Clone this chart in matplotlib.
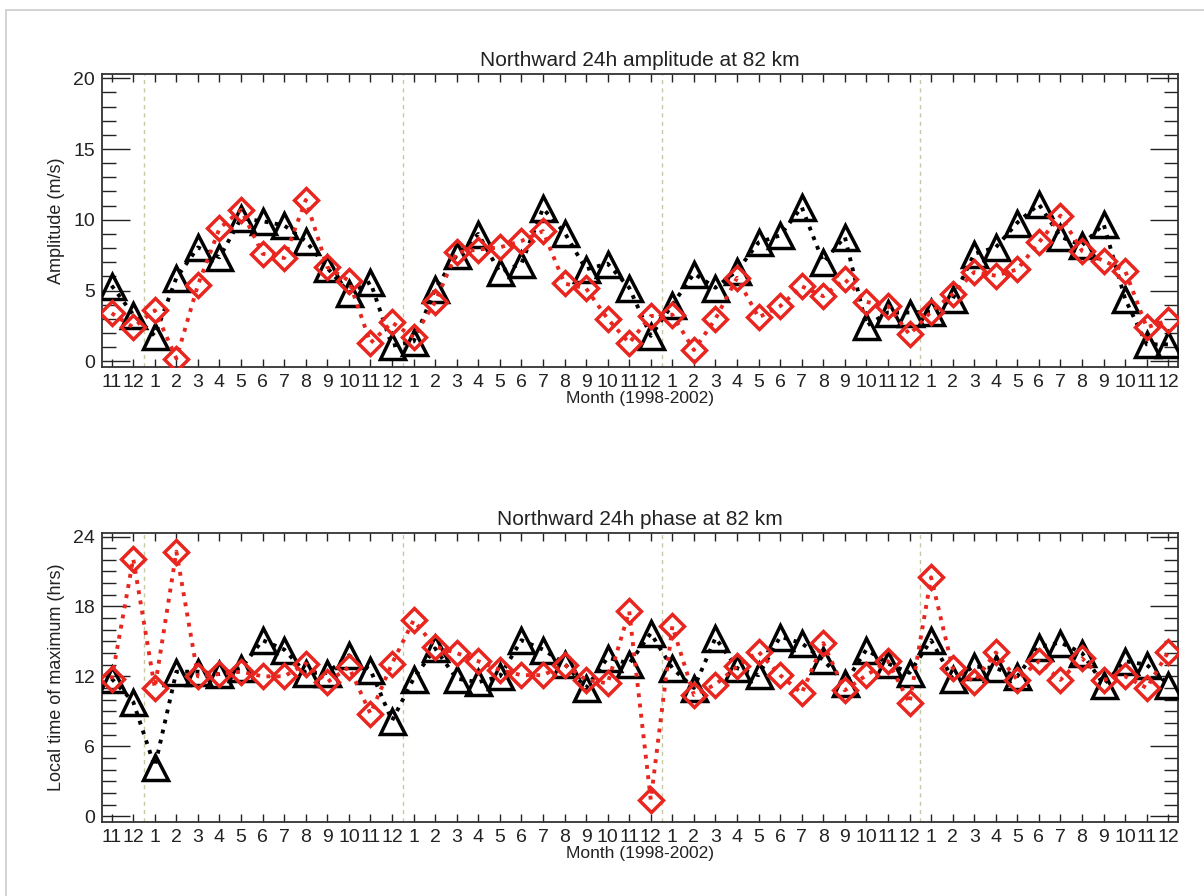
import numpy as np
import matplotlib
matplotlib.use('Agg')
import matplotlib.pyplot as plt
from matplotlib.patches import Rectangle
from matplotlib.ticker import MultipleLocator

plt.rcParams['font.family'] = ['Liberation Sans', 'DejaVu Sans']

# months Nov 1998 .. Dec 2002
month_labels = ['11', '12'] + [str(m) for m in range(1, 13)] * 4
year_breaks = [1.5, 13.5, 25.5, 37.5]

amp_black = [5.35, 3.3, 1.8, 5.9, 8.05, 7.35, 10.1, 9.9, 9.6, 8.5, 6.6, 4.85, 5.6, 1.1,
             1.4, 5.1, 7.5, 9.0, 6.3, 6.9, 10.8, 9.1, 6.5, 6.9, 5.2, 1.8,
             4.0, 6.2, 5.2, 6.4, 8.4, 8.9, 10.9, 7.0, 8.8, 2.5, 3.45, 3.45,
             3.5, 4.4, 7.6, 8.05, 9.8, 11.1, 8.8, 8.2, 9.7, 4.4, 1.2, 1.2]
amp_red = [3.4, 2.4, 3.6, 0.2, 5.4, 9.4, 10.7, 7.6, 7.3, 11.4, 6.65, 5.7, 1.3, 2.75,
           1.7, 4.2, 7.7, 7.9, 8.05, 8.5, 9.2, 5.5, 5.15, 3.0, 1.3, 3.2,
           3.3, 0.8, 3.0, 5.9, 3.1, 3.9, 5.3, 4.6, 5.8, 4.2, 3.9, 1.9,
           3.5, 4.75, 6.3, 6.05, 6.5, 8.4, 10.3, 7.8, 7.1, 6.4, 2.4, 2.9]

pha_black = [11.8, 9.8, 4.25, 12.4, 12.4, 12.2, 12.7, 15.1, 14.3, 12.3, 12.3, 13.8, 12.55, 8.2,
             11.8, 14.4, 11.8, 11.5, 12.0, 15.1, 14.3, 13.1, 11.0, 13.6, 13.1, 15.7,
             12.7, 11.0, 15.3, 12.7, 12.1, 15.4, 14.85, 13.4, 11.4, 14.3, 13.1, 12.3,
             15.1, 11.8, 12.85, 12.7, 12.0, 14.55, 14.9, 14.0, 11.3, 13.3, 13.0, 11.3]
pha_red = [11.75, 22.1, 11.0, 22.7, 12.0, 12.2, 12.4, 12.0, 12.0, 13.1, 11.5, 12.8, 8.8, 13.1,
           16.8, 14.55, 14.0, 13.3, 12.55, 12.1, 12.1, 13.0, 11.7, 11.4, 17.6, 1.4,
           16.3, 10.4, 11.3, 12.85, 14.1, 12.1, 10.55, 14.85, 10.8, 12.1, 13.3, 9.7,
           20.5, 12.7, 11.55, 14.05, 11.7, 13.3, 11.7, 13.55, 11.7, 12.0, 11.0, 14.1]

x = np.arange(len(month_labels))

fig = plt.figure(figsize=(12.04, 8.96), dpi=100)
fig.patches.append(Rectangle((0.005, -0.1), 1.2, 1.089, transform=fig.transFigure,
                             fill=False, edgecolor='#cccccc', lw=1.2))

ax1 = fig.add_axes([0.0847, 0.5904, 0.8937, 0.327])
ax2 = fig.add_axes([0.0847, 0.0826, 0.8937, 0.3225])

panels = [(ax1, amp_black, amp_red, (-0.4, 20.3), 5, 1,
           'Northward 24h amplitude at 82 km', 'Amplitude (m/s)'),
          (ax2, pha_black, pha_red, (-0.5, 24.3), 6, 1,
           'Northward 24h phase at 82 km', 'Local time of maximum (hrs)')]

for ax, yb, yr, ylim, major, minor, title, ylab in panels:
    for xb in year_breaks:
        ax.axvline(xb, color='#c5c8a0', lw=1.0, ls=(0, (3, 3)), zorder=1)
    ax.plot(x, yb, color='k', ls=':', lw=2.8, marker='^', ms=18, mfc='none',
            mec='k', mew=2.5, zorder=3)
    ax.plot(x, yr, color='#e8261f', ls=':', lw=2.8, marker='D', ms=12, mfc='none',
            mec='#e8261f', mew=2.5, zorder=4)
    ax.set_xlim(-0.45, 49.45)
    ax.set_ylim(*ylim)
    ax.set_xticks(x)
    ax.set_xticklabels(month_labels)
    ax.yaxis.set_major_locator(MultipleLocator(major))
    ax.yaxis.set_minor_locator(MultipleLocator(minor))
    ax.tick_params(axis='x', direction='in', length=6, width=1, top=True,
                   labelsize=14, pad=5, colors='#222222')
    ax.tick_params(axis='y', which='major', direction='in', length=20, width=1,
                   right=True, labelsize=14, pad=5, colors='#222222')
    ax.tick_params(axis='y', which='minor', direction='in', length=10, width=1,
                   right=True, colors='#222222')
    for s in ax.spines.values():
        s.set_color('#333333')
        s.set_linewidth(1.3)
    ax.set_title(title, fontsize=15, pad=6, color='#222222')
    ax.set_ylabel(ylab, fontsize=13, labelpad=6, color='#222222')
    ax.set_xlabel('Month (1998-2002)', fontsize=12.5, labelpad=0, color='#222222')

fig.savefig('out.png', dpi=100)
